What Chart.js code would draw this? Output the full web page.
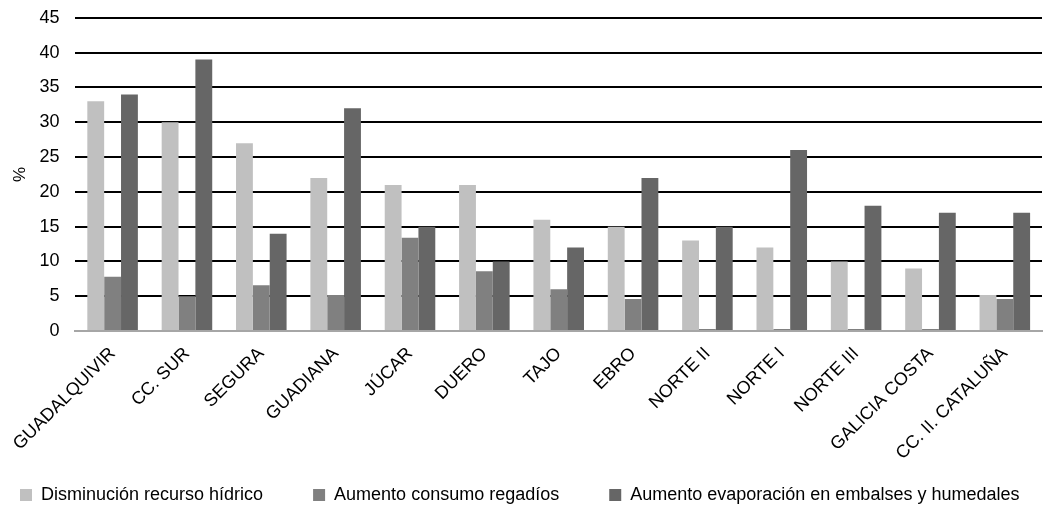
<!DOCTYPE html>
<html>
<head>
<meta charset="utf-8">
<script src="https://cdn.jsdelivr.net/npm/chart.js@4"></script>
<style>
  html, body { margin: 0; padding: 0; background: #fff; }
  #wrap { width: 1044px; height: 514px; }
</style>
</head>
<body>
<div id="wrap"><canvas id="chart" width="1044" height="514"></canvas></div>
<script>
// Categories (demarcaciones hidrográficas)
const categories = ['GUADALQUIVIR', 'CC. SUR', 'SEGURA', 'GUADIANA', 'JÚCAR', 'DUERO', 'TAJO',
  'EBRO', 'NORTE II', 'NORTE I', 'NORTE III', 'GALICIA COSTA', 'CC. II. CATALUÑA'];

// Series values (%)
const disminucionRecurso = [33, 30, 27, 22, 21, 21, 16, 15, 13, 12, 10, 9, 5.2];
const aumentoRegadios = [7.8, 5, 6.6, 5.2, 13.4, 8.6, 6, 4.6, 0.3, 0.3, 0.3, 0.3, 4.6];
const aumentoEvaporacion = [34, 39, 14, 32, 15, 10, 12, 22, 15, 26, 18, 17, 17];

const seriesNames = ['Disminución recurso hídrico', 'Aumento consumo regadíos',
  'Aumento evaporación en embalses y humedales'];

const yTicks = [0, 5, 10, 15, 20, 25, 30, 35, 40, 45];

const font = 'Liberation Sans, Arial, sans-serif';
const legendGap = '        '; // extra room between legend entries

const ctx = document.getElementById('chart').getContext('2d');
new Chart(ctx, {
  type: 'bar',
  data: {
    labels: categories,
    datasets: [
      { label: seriesNames[0], data: disminucionRecurso, backgroundColor: '#c0c0c0' },
      { label: seriesNames[1], data: aumentoRegadios, backgroundColor: '#808080' },
      { label: seriesNames[2], data: aumentoEvaporacion, backgroundColor: '#666666' }
    ]
  },
  options: {
    responsive: false,
    animation: false,
    layout: { padding: { top: 0, right: 2, left: 10, bottom: 0 } },
    datasets: {
      bar: { categoryPercentage: 0.68, barPercentage: 1.0 }
    },
    scales: {
      x: {
        grid: { display: false, drawTicks: false },
        border: { color: '#a6a6a6', width: 2 },
        ticks: {
          color: '#000',
          font: { family: font, size: 18 },
          maxRotation: 45,
          minRotation: 45,
          autoSkip: false,
          padding: 12
        }
      },
      y: {
        min: 0,
        max: 45,
        afterBuildTicks: (axis) => { axis.ticks = yTicks.map((v) => ({ value: v })); },
        grid: {
          color: (c) => (c.index === 0 ? 'rgba(0,0,0,0)' : '#000'),
          lineWidth: 2,
          drawTicks: true,
          tickLength: 9,
          tickColor: 'rgba(0,0,0,0)'
        },
        border: { display: false },
        ticks: {
          color: '#000',
          font: { family: font, size: 18 },
          padding: 7
        },
        title: {
          display: true,
          text: '%',
          color: '#000',
          font: { family: font, size: 17 },
          padding: { top: 0, bottom: 2 }
        }
      }
    },
    plugins: {
      legend: {
        position: 'bottom',
        align: 'start',
        labels: {
          color: '#000',
          font: { family: font, size: 18 },
          boxWidth: 12,
          boxHeight: 12,
          padding: 10,
          generateLabels: (chart) => {
            const items = Chart.defaults.plugins.legend.labels.generateLabels(chart);
            items.forEach((item, i) => {
              item.lineWidth = 0;
              if (i < items.length - 1) item.text = item.text + legendGap;
            });
            return items;
          }
        }
      },
      tooltip: { enabled: false }
    }
  }
});
</script>
</body>
</html>
